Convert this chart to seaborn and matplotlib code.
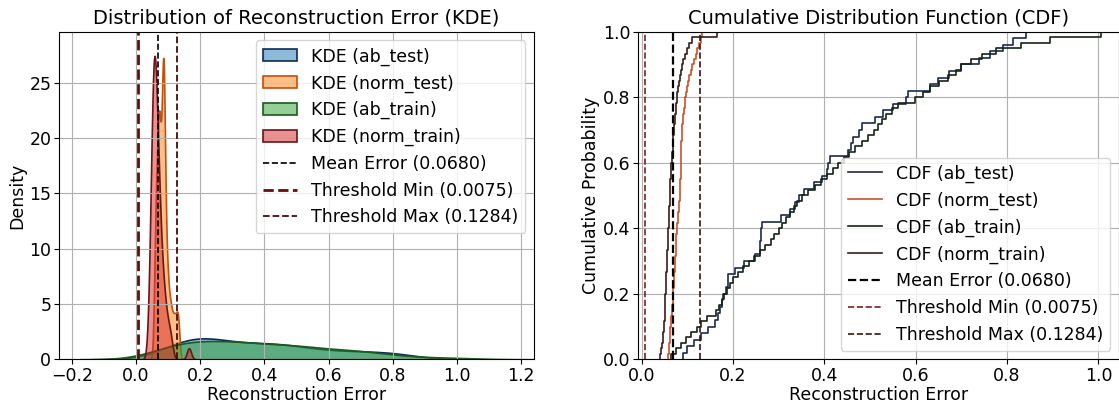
import matplotlib

matplotlib.use("Agg")
import matplotlib.pyplot as plt
import seaborn as sns

# reconstruction errors
ab_test = [
    0.090, 0.100, 0.115, 0.130, 0.145, 0.160, 0.168, 0.172, 0.175, 0.178,
    0.185, 0.188, 0.190, 0.205, 0.225, 0.248, 0.258, 0.260, 0.261, 0.262,
    0.264, 0.305, 0.325, 0.335, 0.345, 0.355, 0.378, 0.395, 0.405, 0.408,
    0.412, 0.452, 0.458, 0.462, 0.475, 0.482, 0.510, 0.528, 0.550, 0.578,
    0.582, 0.632, 0.648, 0.672, 0.700, 0.738, 0.762, 0.790, 0.812, 0.842,
]
norm_test = [
    0.057, 0.059, 0.060, 0.061, 0.062, 0.063, 0.064, 0.065, 0.066, 0.067,
    0.068, 0.069, 0.069, 0.070, 0.071, 0.071, 0.072, 0.073, 0.073, 0.074,
    0.075, 0.075, 0.076, 0.077, 0.078, 0.079, 0.080, 0.081, 0.082, 0.083,
    0.083, 0.084, 0.084, 0.085, 0.085, 0.085, 0.086, 0.086, 0.087, 0.087,
    0.088, 0.088, 0.089, 0.090, 0.091, 0.092, 0.094, 0.095, 0.097, 0.099,
    0.101, 0.104, 0.107, 0.110, 0.114, 0.118, 0.122, 0.126, 0.130, 0.133,
]
ab_train = [
    0.065, 0.075, 0.085, 0.098, 0.108, 0.120, 0.130, 0.142, 0.163, 0.170,
    0.175, 0.180, 0.187, 0.194, 0.200, 0.210, 0.222, 0.235, 0.245, 0.258,
    0.270, 0.282, 0.290, 0.300, 0.308, 0.315, 0.325, 0.333, 0.340, 0.352,
    0.365, 0.380, 0.393, 0.405, 0.418, 0.430, 0.442, 0.453, 0.468, 0.482,
    0.496, 0.508, 0.517, 0.526, 0.534, 0.547, 0.562, 0.598, 0.615, 0.632,
    0.650, 0.670, 0.688, 0.700, 0.722, 0.745, 0.775, 0.830, 0.895, 1.006,
]
norm_train = [
    0.040, 0.043, 0.045, 0.046, 0.047, 0.048, 0.049, 0.050, 0.050, 0.051,
    0.052, 0.052, 0.053, 0.053, 0.054, 0.054, 0.055, 0.055, 0.056, 0.056,
    0.057, 0.057, 0.058, 0.058, 0.059, 0.059, 0.060, 0.060, 0.061, 0.061,
    0.062, 0.063, 0.063, 0.064, 0.065, 0.065, 0.066, 0.067, 0.068, 0.069,
    0.069, 0.070, 0.071, 0.072, 0.073, 0.074, 0.075, 0.077, 0.078, 0.080,
    0.082, 0.084, 0.086, 0.088, 0.091, 0.095, 0.099, 0.104, 0.110, 0.165,
]

series_names = ["ab_test", "norm_test", "ab_train", "norm_train"]
series_data = [ab_test, norm_test, ab_train, norm_train]

mean_error = 0.0680
threshold_min = 0.0075
threshold_max = 0.1284

FS = 12.5


def plot_kde(ax):
    """
    Density of the reconstruction error for each set, plus reference lines.
    :param ax: Axes to draw on.
    """
    fills = ["tab:blue", "tab:orange", "tab:green", "tab:red"]
    edges = ["#0d2b57", "#c2500f", "#1d5a1d", "#6a1616"]
    bw = [0.8, 0.5, 0.8, 0.75]
    for nome, dados, fc, ec, b in zip(series_names, series_data, fills, edges, bw):
        sns.kdeplot(x=dados, ax=ax, fill=True, color=fc, alpha=0.5,
                    edgecolor=ec, linewidth=1.2, bw_adjust=b, label=f"KDE ({nome})")
    ax.axvline(mean_error, color="black", linestyle="--", linewidth=1.2,
               label=f"Mean Error ({mean_error:.4f})")
    ax.axvline(threshold_min, color="#6b0a0a", linestyle="--", linewidth=2.0,
               label=f"Threshold Min ({threshold_min:.4f})")
    ax.axvline(threshold_max, color="#4a0808", linestyle="--", linewidth=1.3,
               label=f"Threshold Max ({threshold_max:.4f})")
    ax.set_xlim(-0.24, 1.24)
    ax.set_ylim(0, 29.6)
    ax.set_title("Distribution of Reconstruction Error (KDE)", fontsize=14)
    ax.set_xlabel("Reconstruction Error", fontsize=FS, labelpad=1)
    ax.set_ylabel("Density", fontsize=FS, labelpad=2)
    ax.grid(True)
    ax.legend(loc="upper right", fontsize=FS, labelspacing=0.5)


def plot_cdf(ax):
    """
    Empirical CDF of the reconstruction error for each set.
    :param ax: Axes to draw on.
    """
    cores = ["#1b2a4e", "#c9502a", "#142414", "#3b1c1c"]
    for nome, dados, cor in zip(series_names, series_data, cores):
        sns.ecdfplot(x=dados, ax=ax, color=cor, linewidth=1.2, label=f"CDF ({nome})")
    ax.axvline(mean_error, color="black", linestyle="--", linewidth=1.6,
               label=f"Mean Error ({mean_error:.4f})")
    ax.axvline(threshold_min, color="#7a2020", linestyle="--", linewidth=1.2,
               label=f"Threshold Min ({threshold_min:.4f})")
    ax.axvline(threshold_max, color="#3a1212", linestyle="--", linewidth=1.2,
               label=f"Threshold Max ({threshold_max:.4f})")
    ax.set_xlim(-0.0075, 1.045)
    ax.set_ylim(0, 1.0)
    ax.set_title("Cumulative Distribution Function (CDF)", fontsize=14)
    ax.set_xlabel("Reconstruction Error", fontsize=FS, labelpad=1)
    ax.set_ylabel("Cumulative Probability", fontsize=FS, labelpad=2)
    ax.grid(True)
    ax.legend(loc="lower right", fontsize=FS, labelspacing=0.5)


fig, (ax1, ax2) = plt.subplots(1, 2, figsize=(11.19, 4.07), dpi=100)
ax1.set_position([0.0527, 0.1172, 0.4245, 0.805])
ax2.set_position([0.5704, 0.1172, 0.4296, 0.805])
for ax in (ax1, ax2):
    ax.tick_params(labelsize=FS, pad=2)

plot_kde(ax1)
plot_cdf(ax2)

fig.savefig("out.png", dpi=100)
plt.close(fig)
